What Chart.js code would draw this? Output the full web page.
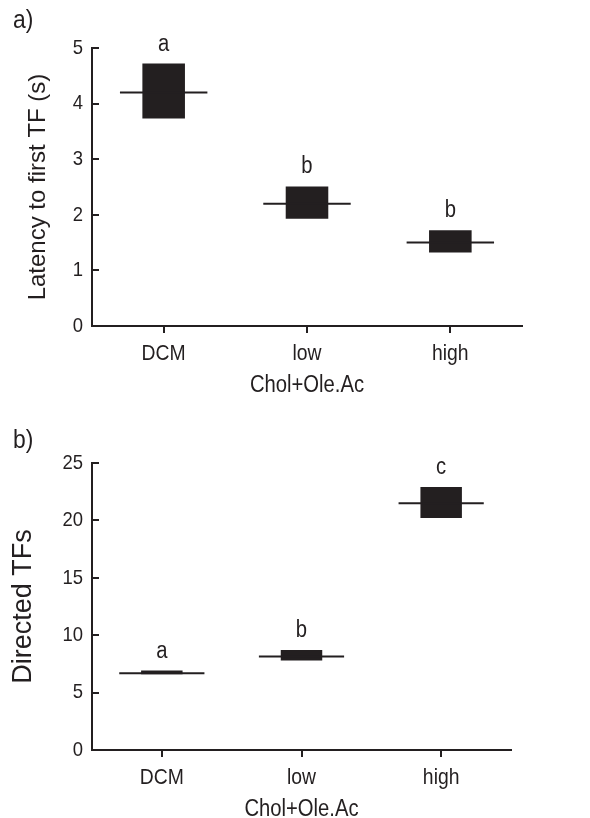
<!DOCTYPE html>
<html>
<head>
<meta charset="utf-8">
<script src="https://cdn.jsdelivr.net/npm/chart.js@4"></script>
<style>
  body { margin: 0; background: #fff; width: 590px; height: 818px; position: relative; overflow: hidden;
         font-family: "Liberation Sans", Arial, sans-serif; }
  .panel { position: absolute; left: 0; width: 590px; }
  .tag { position: absolute; left: 13px; font-size: 26px; line-height: 26px; color: #231f20;
         transform: scaleX(0.88); transform-origin: left top; }
</style>
</head>
<body>
<div class="panel" style="top:0;height:400px"><canvas id="chartA" width="590" height="400"></canvas></div>
<div class="panel" style="top:400px;height:418px"><canvas id="chartB" width="590" height="418"></canvas></div>
<div class="tag" style="top:6px">a)</div>
<div class="tag" style="top:426px">b)</div>

<script>
// ── DATA ──
const groups = ["DCM", "low", "high"];
const xTitle = "Chol+Ole.Ac";

// a) latency to first TF (s)
const latLow     = [3.73, 1.93, 1.32];
const latHigh    = [4.72, 2.51, 1.72];
const latMean    = [4.20, 2.20, 1.50];
const latLetters = ["a", "b", "b"];

// b) directed TFs
const tfLow     = [6.60, 7.80, 20.2];
const tfHigh    = [6.92, 8.70, 22.9];
const tfMean    = [6.68, 8.15, 21.5];
const tfLetters = ["a", "b", "c"];

const ink = "#231f20";
const family = '"Liberation Sans", Arial, sans-serif';
const squeeze = 0.88;   // the original type is a slightly narrow Helvetica
Chart.defaults.font.family = family;
Chart.defaults.color = ink;

// narrow text: tick labels, axis title, letters above the boxes
const textPlugin = {
    id: "narrowText",
    afterDraw(chart, args, opts) {
        const { ctx, chartArea: area, scales: { x, y } } = chart;

        function put(text, px, py, size, align, baseline) {
            ctx.save();
            ctx.translate(px, py);
            ctx.scale(squeeze, 1);
            ctx.fillStyle = ink;
            ctx.font = size + "px " + family;
            ctx.textAlign = align;
            ctx.textBaseline = baseline;
            ctx.fillText(text, 0, 0);
            ctx.restore();
        }

        groups.forEach((g, i) => put(g, x.getPixelForValue(i), area.bottom + 34, 22, "center", "alphabetic"));
        y.ticks.forEach((t, i) => put(String(t.value), area.left - 9, y.getPixelForTick(i), 21, "right", "middle"));
        put(xTitle, (area.left + area.right) / 2, area.bottom + 65.5, 23, "center", "alphabetic");
        opts.letters.forEach((l, i) =>
            put(l, x.getPixelForValue(i), y.getPixelForValue(opts.top[i]) - 13, 23, "center", "alphabetic"));
    }
};

function makeChart(canvasId, low, high, mean, letters, cfg) {
    const halfLine = ctx => ctx.chart.chartArea ? ctx.chart.chartArea.width / groups.length * 0.305 : 40;
    return new Chart(document.getElementById(canvasId), {
        type: "bar",
        data: {
            labels: groups,
            datasets: [
                {
                    type: "bar",
                    data: groups.map((g, i) => [low[i], high[i]]),
                    backgroundColor: ink,
                    borderWidth: 0,
                    barPercentage: 1,
                    categoryPercentage: 0.297,
                    order: 2
                },
                {
                    type: "line",
                    data: mean,
                    showLine: false,
                    pointStyle: "line",
                    pointRadius: halfLine,
                    pointHoverRadius: halfLine,
                    pointBorderWidth: 2,
                    pointBorderColor: ink,
                    borderColor: ink,
                    order: 1
                }
            ]
        },
        options: {
            responsive: false,
            animation: false,
            events: [],
            layout: { padding: { top: cfg.top, right: cfg.right, bottom: 0, left: 0 } },
            plugins: {
                legend: { display: false },
                tooltip: { enabled: false },
                narrowText: { letters, top: high }
            },
            scales: {
                x: {
                    offset: true,
                    grid: { offset: false, drawOnChartArea: false, drawTicks: true, tickLength: 7, color: ink, lineWidth: 2 },
                    border: { display: true, color: ink, width: 2 },
                    ticks: { display: false },
                    afterFit: s => { s.height = cfg.xHeight; }
                },
                y: {
                    min: 0,
                    max: cfg.max,
                    ticks: { stepSize: cfg.step, display: false },
                    grid: { drawOnChartArea: false, drawTicks: true, tickLength: -7, color: ink, lineWidth: 2 },
                    border: { display: true, color: ink, width: 2 },
                    title: { display: true, text: cfg.yTitle, color: ink, font: { size: cfg.yTitleSize },
                             padding: { top: cfg.yTitlePad, bottom: 0 } },
                    afterFit: s => { s.width = 92; }
                }
            }
        },
        plugins: [textPlugin]
    });
}

makeChart("chartA", latLow, latHigh, latMean, latLetters, {
    top: 48, right: 68, max: 5, step: 1, xHeight: 74,
    yTitle: "Latency to first TF (s)", yTitleSize: 24, yTitlePad: 23.6
});

makeChart("chartB", tfLow, tfHigh, tfMean, tfLetters, {
    top: 63, right: 79, max: 25, step: 5, xHeight: 68,
    yTitle: "Directed TFs", yTitleSize: 27, yTitlePad: 7.8
});
</script>
</body>
</html>
